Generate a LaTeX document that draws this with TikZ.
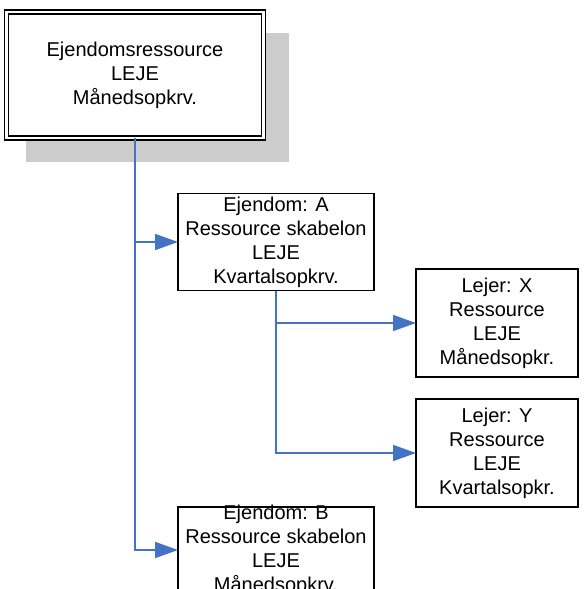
\documentclass[tikz,border=0pt]{standalone}
\usepackage{fontspec}
\setmainfont{Liberation Sans}
\usetikzlibrary{positioning,shadows,arrows.meta}

\definecolor{linkblue}{RGB}{68,114,196}
\definecolor{shadowgray}{RGB}{204,204,204}

\tikzset{
  boxfont/.style={font=\fontsize{20}{24}\selectfont},
  resbox/.style={draw, fill=white, line width=1.2pt, inner sep=1pt, outer sep=0pt, align=center, boxfont},
  master/.style={resbox, double, double distance=2.6pt, line width=1.3pt,
    minimum width=257pt, minimum height=126pt,
    drop shadow={shadow xshift=22pt, shadow yshift=-22pt, shadow scale=1.025, opacity=1, fill=shadowgray}},
  tmpl/.style={resbox, minimum width=196pt, minimum height=97pt},
  tenant/.style={resbox, minimum width=162pt, minimum height=108pt},
  link/.style={draw=linkblue, line width=1.7pt, -{Triangle[length=23pt,width=16pt]}},
}

\begin{document}
\begin{tikzpicture}[x=1pt, y=1pt]
    \useasboundingbox (0,0) rectangle (584,-589);
    \clip (0,0) rectangle (584,-589);
    \node[master] (res) at (135,-75) {Ejendomsressource\\LEJE\\Månedsopkrv.}; %
    \node[tmpl, below right=55.5pt and 43pt of res.south] (ea) {Ejendom: A\\Ressource skabelon\\LEJE\\Kvartalsopkrv.};
    \node[tenant, below right=75.5pt and 42pt of ea.north east] (lx) {Lejer: X\\Ressource\\LEJE\\Månedsopkr.};
    \node[tenant, below=22pt of lx] (ly) {Lejer: Y\\Ressource\\LEJE\\Kvartalsopkr.};
    \node[tmpl, minimum height=86pt, below=216.5pt of ea] (eb) {};
    \node[boxfont, align=center, inner sep=0pt] (ebtext) at (eb.center) {Ejendom: B\\Ressource skabelon\\LEJE\\Månedsopkrv.};
    \draw[link] (res.south) |- (ea.west);
    \draw[link] (res.south) |- (eb.west);
    \draw[link] (ea.south) |- (lx.west);
    \draw[link] (ea.south) |- (ly.west);
\end{tikzpicture}
\end{document}
